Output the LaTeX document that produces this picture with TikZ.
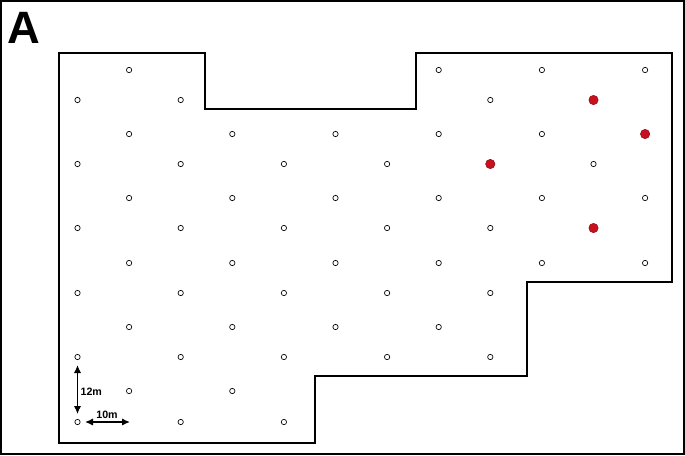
\documentclass[tikz,border=0pt]{standalone}
\usepackage{fontspec}
\setmainfont{Liberation Sans}
\usetikzlibrary{arrows.meta}
\definecolor{hitred}{RGB}{200,16,30}

\begin{document}
\begin{tikzpicture}[x=0.75pt,y=-0.75pt,
    wall/.style={line width=1.1pt,line join=miter},
    well/.style={circle,draw,line width=0.5pt,inner sep=0pt,minimum size=4pt},
    hit/.style={circle,draw=hitred!70!black,fill=hitred,line width=0.4pt,inner sep=0pt,minimum size=7pt},
    scl/.style={font=\fontsize{8}{9}\selectfont\bfseries,inner sep=1pt},
    arr/.style={{Latex[length=6pt,width=5.5pt]}-{Latex[length=6pt,width=5.5pt]},line width=1.1pt}
]
\useasboundingbox (0,0) rectangle (685,455);
\draw[line width=1.1pt] (1,1) rectangle (684,454);
\node[anchor=base west,inner sep=0pt,font=\fontsize{34}{34}\selectfont\bfseries] (panel) at (7,43) {A};

% site outline
\draw[wall] (59,53) -- (205,53) -- (205,109) -- (416,109) -- (416,53)
    -- (672,53) -- (672,282) -- (527,282) -- (527,376) -- (315,376)
    -- (315,443) -- (59,443) -- cycle;

% sampling points
\foreach \r/\y/\cols in {0/70/{1,7,9,11}, 1/100/{0,2,8}, 2/134/{1,3,5,7,9},
    3/164/{0,2,4,6,10}, 4/198/{1,3,5,7,9,11}, 5/228/{0,2,4,6,8},
    6/263/{1,3,5,7,9,11}, 7/293/{0,2,4,6,8}, 8/327/{1,3,5,7},
    9/357/{0,2,4,6,8}, 10/391/{1,3}, 11/422/{0,2,4}}
  \foreach \c in \cols
    \node[well] (p-\r-\c) at (77.5+51.6*\c,\y) {};

% positive points
\foreach \r/\y/\c in {1/100/10, 2/134/11, 3/164/8, 5/228/10}
  \node[hit] (p-\r-\c) at (77.5+51.6*\c,\y) {};

% scale bar
\coordinate (v-top) at (77.5,365);
\coordinate (v-bot) at (77.5,414);
\coordinate (h-left) at (85,422);
\coordinate (h-right) at (130,422);
\draw[arr] (v-top) -- (v-bot);
\draw[arr] (h-left) -- (h-right);
\node[scl,anchor=west] (len-v) at (79,391.5) {12m};
\node[scl,anchor=base] (len-h) at (107,418) {10m};

\end{tikzpicture}
\end{document}
